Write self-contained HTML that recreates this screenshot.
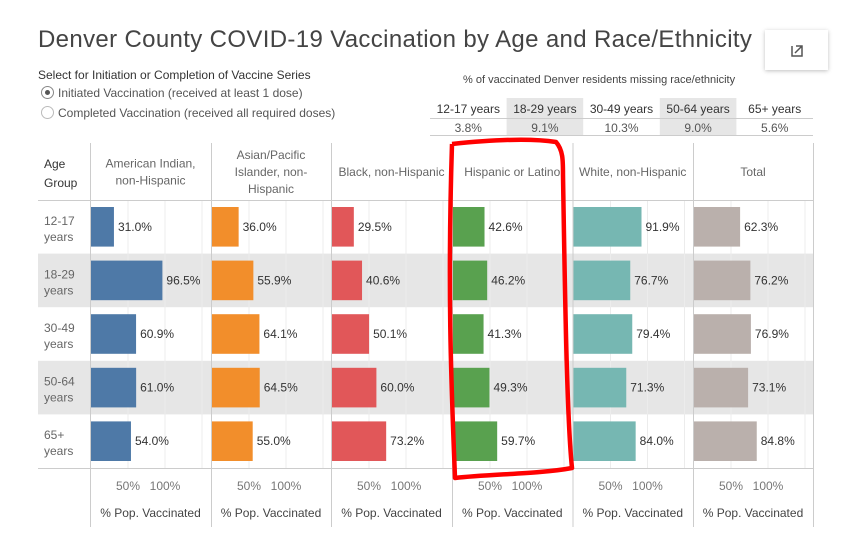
<!DOCTYPE html>
<html><head><meta charset="utf-8"><style>
body{margin:0;width:850px;height:536px;background:#fff;font-family:"Liberation Sans",sans-serif;overflow:hidden;position:relative}
.t{position:absolute;white-space:nowrap}
</style></head><body>
<div class="t" style="left:38px;top:26px;font-size:24px;color:#444;letter-spacing:0.35px">Denver County COVID-19 Vaccination by Age and Race/Ethnicity</div>
<div style="position:absolute;left:765px;top:30px;width:63px;height:40px;background:#fff;box-shadow:0 1px 4px rgba(0,0,0,0.25)">
<svg width="63" height="40"><path d="M27 16v10h10v-4M31 16h6v6M37 16l-7 7" stroke="#555" stroke-width="1.5" fill="none"/></svg></div>
<div class="t" style="left:38px;top:68px;font-size:12px;color:#333">Select for Initiation or Completion of Vaccine Series</div>
<div class="t" style="left:41px;top:86px;font-size:12px;color:#555"><span style="display:inline-block;width:11px;height:11px;border:1px solid #888;border-radius:50%;vertical-align:-2px;position:relative;margin-right:4px"><span style="position:absolute;left:3px;top:3px;width:5px;height:5px;border-radius:50%;background:#555"></span></span>Initiated Vaccination (received at least 1 dose)</div>
<div class="t" style="left:41px;top:106px;font-size:12px;color:#555"><span style="display:inline-block;width:11px;height:11px;border:1px solid #bbb;border-radius:50%;vertical-align:-2px;margin-right:4px"></span>Completed Vaccination (received all required doses)</div>
<div class="t" style="left:463px;top:74px;font-size:11px;color:#444">% of vaccinated Denver residents missing race/ethnicity</div>
<svg id="c" width="850" height="536" style="position:absolute;left:0;top:0" font-family="Liberation Sans, sans-serif"></svg>
<script>
const ns="http://www.w3.org/2000/svg";
const svg=document.getElementById('c');
function mk(t,a,txt){const e=document.createElementNS(ns,t);for(const k in a)e.setAttribute(k,a[k]);if(txt!=null)e.textContent=txt;svg.appendChild(e);return e;}
const missAges=["12-17 years","18-29 years","30-49 years","50-64 years","65+ years"];
const missVals=["3.8%","9.1%","10.3%","9.0%","5.6%"];
const groups=["American Indian, non-Hispanic","Asian/Pacific Islander, non-Hispanic","Black, non-Hispanic","Hispanic or Latino","White, non-Hispanic","Total"];
const ages=["12-17","18-29","30-49","50-64","65+"];
const amInd=[31.0,96.5,60.9,61.0,54.0];
const asian=[36.0,55.9,64.1,64.5,55.0];
const black=[29.5,40.6,50.1,60.0,73.2];
const hisp=[42.6,46.2,41.3,49.3,59.7];
const white=[91.9,76.7,79.4,71.3,84.0];
const total=[62.3,76.2,76.9,73.1,84.8];
const series=[amInd,asian,black,hisp,white,total];
const colors=["#4e79a7","#f28e2b","#e15759","#59a14f","#76b7b2","#bab0ac"];
const ticks=[50,100];
const mx0=430,mw=76.6;
missAges.forEach((a,i)=>{const x=mx0+i*mw;
 if(i%2==1){let r=mk('rect',{x:x,y:98,width:mw,height:37,fill:'#e6e6e6'});}
 let h=mk('text',{x:x+mw/2,y:113,'text-anchor':'middle','font-size':12,fill:'#333'},a);
 let v=mk('text',{x:x+mw/2,y:132,'text-anchor':'middle','font-size':12,fill:'#555'},missVals[i]);
});
mk('line',{x1:430,x2:813,y1:118.5,y2:118.5,stroke:'#ccc'});
mk('line',{x1:430,x2:813,y1:135.5,y2:135.5,stroke:'#ccc'});
const px=[90,211,331,452,572.5,693,813];
const rowTop=200,rowH=53.6;
const xs=v=>v*0.74;
ages.forEach((a,i)=>{if(i%2==1){let r=mk('rect',{x:38,y:rowTop+i*rowH,width:775,height:rowH,fill:'#e6e6e6'});}});
for(let p=0;p<6;p++){ticks.concat([150]).forEach(t=>{mk('line',{x1:px[p]+1+xs(t),x2:px[p]+1+xs(t),y1:rowTop,y2:468,stroke:'#ececec'});});}
mk('line',{x1:38,x2:813,y1:rowTop+.5,y2:rowTop+.5,stroke:'#ccc'});
mk('line',{x1:38,x2:813,y1:468.5,y2:468.5,stroke:'#ccc'});
px.forEach(x=>mk('line',{x1:x+.5,x2:x+.5,y1:143,y2:527,stroke:'#ccc'}));
let ag=mk('text',{x:44,y:168,'font-size':12,fill:'#333'},'Age');
mk('text',{x:44,y:187,'font-size':12,fill:'#333'},'Group');
const hdrLines=[["American Indian,","non-Hispanic"],["Asian/Pacific","Islander, non-","Hispanic"],["Black, non-Hispanic"],["Hispanic or Latino"],["White, non-Hispanic"],["Total"]];
hdrLines.forEach((ls,p)=>{const cx=(px[p]+px[p+1])/2;const y0=176-(ls.length-1)*8.5;
 ls.forEach((l,k)=>{let t=mk('text',{x:cx,y:y0+k*17,'text-anchor':'middle','font-size':12,fill:'#666'},l);});
 ticks.forEach(tk=>{let t=mk('text',{x:px[p]+1+xs(tk),y:490,'text-anchor':'middle','font-size':12,fill:'#777'},tk+'%');});
 let at=mk('text',{x:cx,y:517,'text-anchor':'middle','font-size':12,fill:'#444'},'% Pop. Vaccinated');
});
ages.forEach((a,i)=>{const y=rowTop+i*rowH;
 let t=mk('text',{x:44,y:y+rowH/2-2,'font-size':12,fill:'#666'},a);
 mk('text',{x:44,y:y+rowH/2+14,'font-size':12,fill:'#666'},'years');
 series.forEach((s,p)=>{const x0=px[p]+1,w=xs(s[i]);
  let b=mk('rect',{x:x0,y:y+7,width:w,height:rowH-14,fill:colors[p]});
  
  
  let l=mk('text',{x:x0+w+4,y:y+rowH/2+4,'font-size':12,fill:'#333'},s[i].toFixed(1)+'%');
  
  
 });
});
let hl=mk('path',{d:'M452 144 C490 140 530 138 556 142 C563 150 563 160 563 175 C565 300 567 420 572 468 C540 474 490 474 455 478 C452 400 447 300 452 144',stroke:'#ff0000','stroke-width':4.5,fill:'none','stroke-linejoin':'round'});


</script>
</body></html>
